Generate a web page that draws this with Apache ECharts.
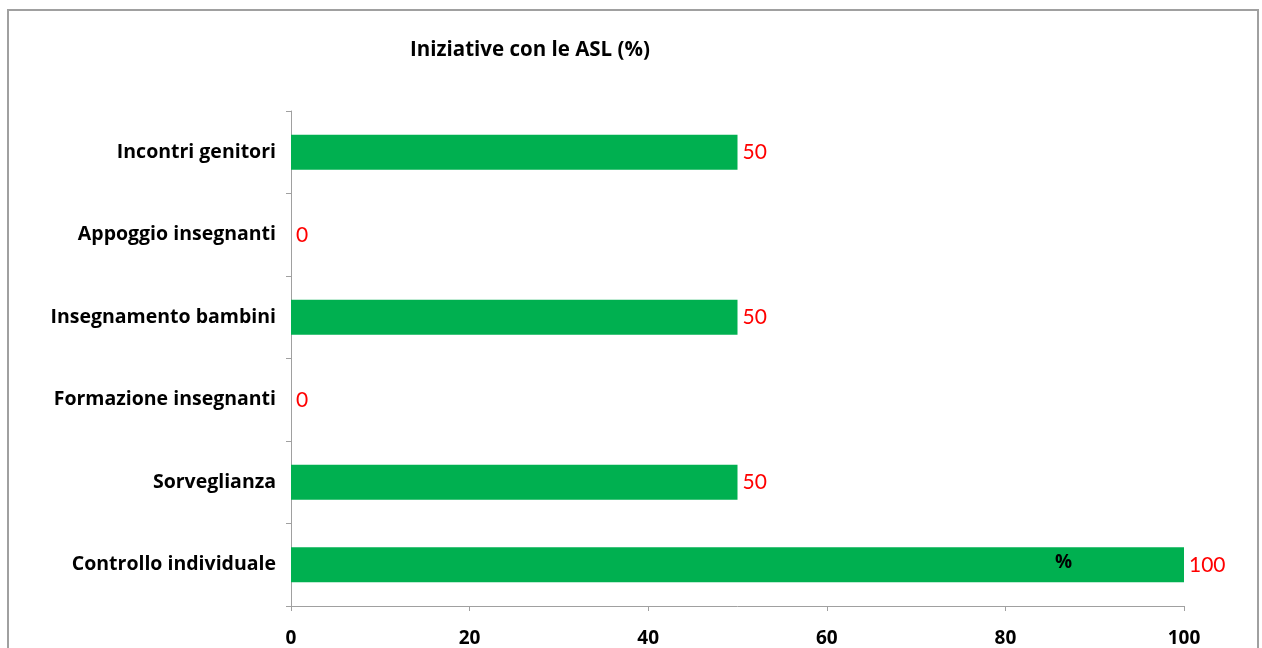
<!DOCTYPE html>
<html>
<head>
<meta charset="utf-8">
<script src="https://cdn.jsdelivr.net/npm/echarts@6/dist/echarts.min.js"></script>
<style>html,body{margin:0;padding:0;background:#fff}#c{width:1262px;height:648px}</style>
</head>
<body>
<div id="c"></div>
<script>
const titleText = 'Iniziative con le ASL (%)';
const categories = ['Controllo individuale', 'Sorveglianza', 'Formazione insegnanti', 'Insegnamento bambini', 'Appoggio insegnanti', 'Incontri genitori'];
const values = [100, 50, 0, 50, 0, 50];
const seriesName = '%';
const xTicks = [0, 20, 40, 60, 80, 100];

const FONT = '"Open Sans", "Liberation Sans", sans-serif';
const NUMFONT = 'Lato, "Open Sans", sans-serif';
const chart = echarts.init(document.getElementById('c'));
chart.setOption({
  animation: false,
  title: {
    text: titleText, left: 405, top: 35,
    textStyle: { fontFamily: FONT, fontWeight: 'bold', fontSize: 20.5, color: '#000' }
  },
  graphic: [{
    type: 'rect', shape: { x: 8, y: 10, width: 1250, height: 700 },
    style: { fill: 'none', stroke: '#a0a0a0', lineWidth: 2 }, silent: true, z: -1
  }],
  grid: { left: 291, right: 78, top: 111, bottom: 42, containLabel: false },
  xAxis: {
    type: 'value', min: xTicks[0], max: xTicks[xTicks.length - 1], interval: 20,
    axisLine: { show: true, lineStyle: { color: '#a0a0a0', width: 1 } },
    axisTick: { show: true, length: 5, lineStyle: { color: '#a0a0a0' } },
    splitLine: { show: false },
    axisLabel: { margin: 23, fontFamily: FONT, fontWeight: 'bold', fontSize: 19, color: '#000' }
  },
  yAxis: {
    type: 'category', data: categories,
    axisLine: { show: true, lineStyle: { color: '#a0a0a0', width: 1 } },
    axisTick: { show: true, length: 5, lineStyle: { color: '#a0a0a0' } },
    axisLabel: { margin: 15, fontFamily: FONT, fontWeight: 'bold', fontSize: 19.5, color: '#000' }
  },
  series: [{
    name: seriesName, type: 'bar', data: values, barWidth: 35,
    itemStyle: { color: '#00B050' },
    label: { show: true, position: 'right', distance: 5, color: '#FF0000', fontFamily: NUMFONT, fontSize: 21 },
    markPoint: {
      symbol: 'circle', symbolSize: 2,
      itemStyle: { color: 'rgba(0,0,0,0)' },
      data: [{ coord: [86.5, categories[0]], value: 0 }],
      label: { show: true, position: 'inside', formatter: seriesName, fontFamily: FONT, fontWeight: 'bold', fontSize: 19, color: '#000', offset: [0, -2] }
    }
  }]
});
</script>
</body>
</html>
